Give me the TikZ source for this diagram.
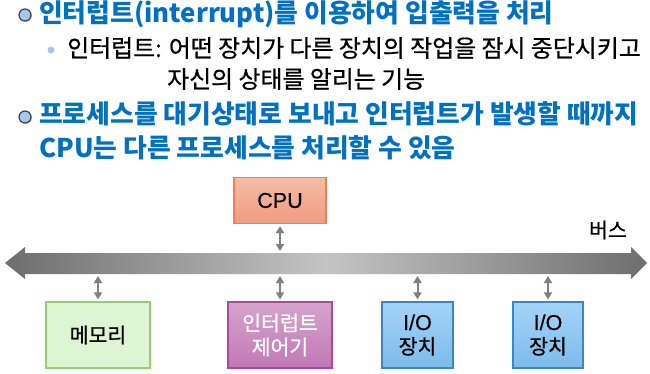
\documentclass[tikz,border=0pt]{standalone}
\usepackage{fontspec}
\setmainfont{Noto Sans CJK KR}
\newfontfamily\medfont{Noto Sans CJK KR}[FakeBold=0.7]
\newfontfamily\latfont{Liberation Sans}[FakeBold=0.5]
\usetikzlibrary{arrows.meta,shadows}
\definecolor{titleblue}{HTML}{0070C0}
\definecolor{bulletfill}{HTML}{A6C8EE}
\definecolor{bulletline}{HTML}{404040}
\definecolor{busdark}{HTML}{6E6E6E}
\definecolor{buslight}{HTML}{C4C4C4}
\definecolor{connc}{HTML}{7F7F7F}
\definecolor{cputop}{HTML}{F6BCA6}
\definecolor{cpubot}{HTML}{F09C80}
\definecolor{cpuline}{HTML}{F07F50}
\definecolor{memfill}{HTML}{DDF5D2}
\definecolor{memline}{HTML}{8FD16F}
\definecolor{ictop}{HTML}{D5A4CD}
\definecolor{icbot}{HTML}{C278B5}
\definecolor{icline}{HTML}{B0479F}
\definecolor{iotop}{HTML}{A4D4F7}
\definecolor{iobot}{HTML}{7DBBEB}
\definecolor{ioline}{HTML}{3A87C4}
\begin{document}
\begin{tikzpicture}[x=1pt,y=-1pt,
  titletext/.style={anchor=west,inner sep=0pt,text=titleblue,font=\fontsize{25.8}{30}\selectfont\bfseries},
  subtext/.style={anchor=west,inner sep=0pt,text=black,font=\medfont\fontsize{23.9}{28}\selectfont},
  bigbullet/.style={circle,draw=bulletline,line width=1.2pt,fill=bulletfill,minimum size=12pt,inner sep=0pt,
    drop shadow={shadow xshift=0.8pt,shadow yshift=-0.8pt,opacity=0.5}},
  smallbullet/.style={circle,fill=bulletfill,minimum size=7pt,inner sep=0pt},
  box/.style={rectangle,line width=1.2pt,inner sep=0pt,align=center,font=\medfont\fontsize{20.5}{24}\selectfont},
  conn/.style={draw=connc,line width=2pt,{Triangle[width=8pt,length=7pt]}-{Triangle[width=8pt,length=7pt]},shorten <=2pt,shorten >=2pt},
  lbl/.style={inner sep=0pt,font=\medfont\fontsize{20.5}{24}\selectfont}
]
\useasboundingbox (0,0) rectangle (650,373);

% text
\node[bigbullet] (b1) at (25,15) {};
\node[titletext] (t1) at (39,14) {인터럽트(interrupt)를 이용하여 입출력을 처리};
\node[smallbullet] (b2) at (51,50) {};
\node[subtext] (s1) at (67,48) {인터럽트: 어떤 장치가 다른 장치의 작업을 잠시 중단시키고};
\node[subtext] (s2) at (167,79) {자신의 상태를 알리는 기능};
\node[bigbullet] (b3) at (25,117) {};
\node[titletext] (t3) at (39,114) {프로세스를 대기상태로 보내고 인터럽트가 발생할 때까지};
\node[titletext] (t4) at (39,148) {CPU는 다른 프로세스를 처리할 수 있음};

% bus
\shade[left color=busdark,right color=busdark,middle color=buslight]
  (5,263) -- (25,247) -- (25,253) -- (631,253) -- (631,247) -- (647,263)
  -- (631,279) -- (631,274) -- (25,274) -- (25,279) -- cycle;
\coordinate (bustop) at (0,253);
\coordinate (busbot) at (0,274);
\node[lbl] (buslbl) at (608,230) {버스};

% boxes
\node[box,minimum width=92pt,minimum height=46pt,top color=cputop,bottom color=cpubot,draw=cpuline] (cpu) at (280,200.5) {\latfont\fontsize{21.5}{24}\selectfont CPU};
\node[box,minimum width=104pt,minimum height=66pt,fill=memfill,draw=memline] (mem) at (98,335) {메모리};
\node[box,minimum width=104pt,minimum height=66pt,top color=ictop,bottom color=icbot,draw=icline,text=white] (ic) at (280,335) {인터럽트\\제어기};
\node[box,minimum width=71pt,minimum height=66pt,top color=iotop,bottom color=iobot,draw=ioline] (io1) at (417.5,335) {{\latfont\fontsize{21.5}{24}\selectfont I/O}\\장치};
\node[box,minimum width=70pt,minimum height=66pt,top color=iotop,bottom color=iobot,draw=ioline] (io2) at (548,335) {{\latfont\fontsize{21.5}{24}\selectfont I/O}\\장치};

% connectors
\draw[conn] (cpu.south) -- (cpu.south |- bustop);
\draw[conn] (mem.north |- busbot) -- (mem.north);
\draw[conn] (ic.north |- busbot) -- (ic.north);
\draw[conn] (io1.north |- busbot) -- (io1.north);
\draw[conn] (io2.north |- busbot) -- (io2.north);
\end{tikzpicture}
\end{document}
